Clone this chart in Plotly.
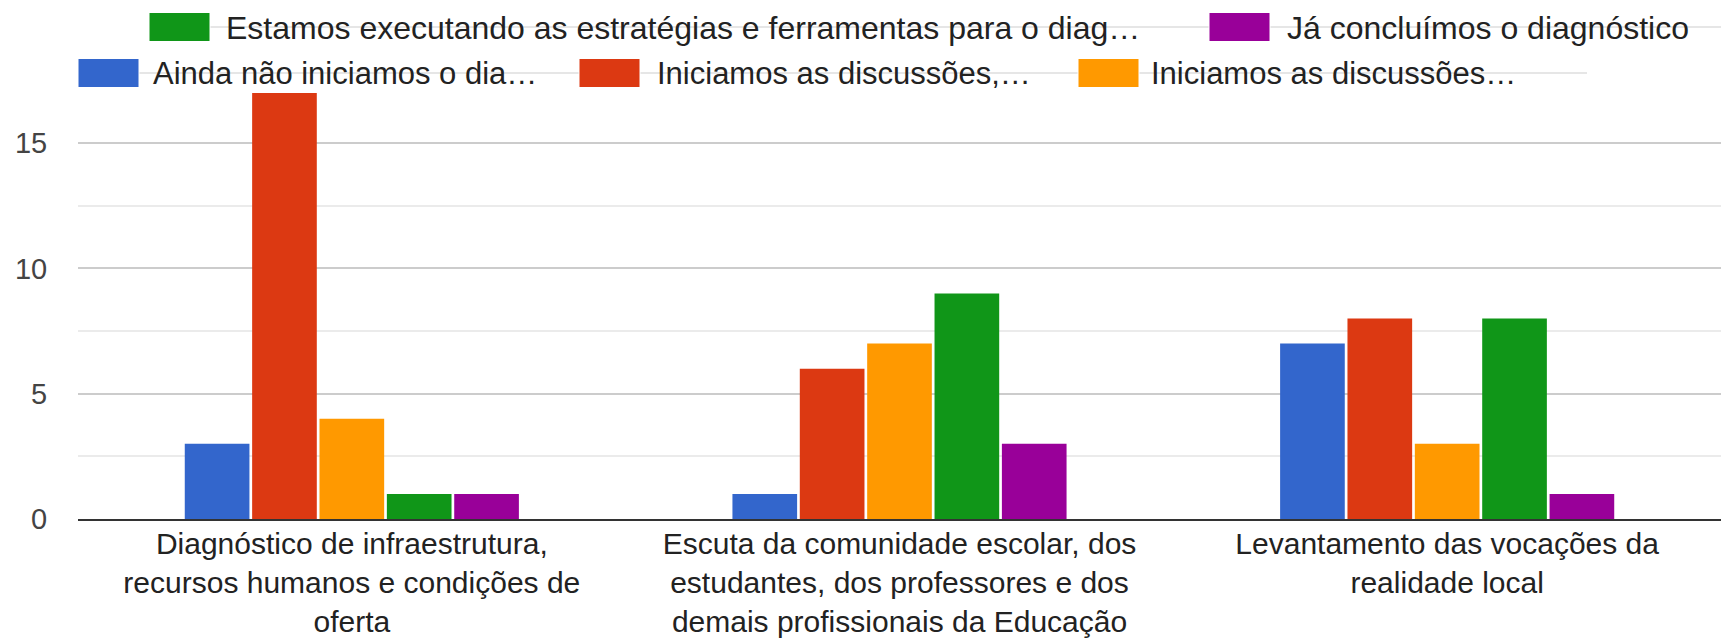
import plotly.graph_objects as go

categories = [
    "Diagnóstico de infraestrutura,<br>recursos humanos e condições de<br>oferta",
    "Escuta da comunidade escolar, dos<br>estudantes, dos professores e dos<br>demais profissionais da Educação",
    "Levantamento das vocações da<br>realidade local",
]
series_names = [
    "Ainda não iniciamos o dia…",
    "Iniciamos as discussões,…",
    "Iniciamos as discussões…",
    "Estamos executando as estratégias e ferramentas para o diag…",
    "Já concluímos o diagnóstico",
]
series_colors = ["#3366cc", "#dc3912", "#ff9900", "#109618", "#990099"]
ainda = [3, 1, 7]
iniciamos_virg = [17, 6, 8]
iniciamos = [4, 7, 3]
estamos = [1, 9, 8]
concluimos = [1, 3, 1]
series_values = [ainda, iniciamos_virg, iniciamos, estamos, concluimos]

W, H = 1721, 638
L, R, T, B = 78, 0, 88, 119
PW, PH = W - L - R, H - T - B

def px(x):
    return (x - L) / PW

def py(y):
    return (H - B - y) / PH

fig = go.Figure()
for name, vals, col in zip(series_names, series_values, series_colors):
    fig.add_trace(go.Bar(x=categories, y=vals, name=name, marker_color=col,
                         marker_line_width=0, showlegend=False))

FONT = "Arial, 'Liberation Sans', sans-serif"
shapes = []
annotations = []
# light rules running behind each legend row
shapes.append(dict(type="line", xref="paper", yref="paper", x0=px(149), x1=px(1721),
                   y0=py(27), y1=py(27), line=dict(color="#e6e6e6", width=2), layer="below"))
shapes.append(dict(type="line", xref="paper", yref="paper", x0=px(78), x1=px(1587),
                   y0=py(73), y1=py(73), line=dict(color="#e6e6e6", width=2), layer="below"))

legend_items = [
    # (series index, box left px, text left px, row center y px, font size)
    (3, 149, 224, 27, 32),
    (4, 1209, 1285, 27, 32),
    (0, 78, 151, 73, 31),
    (1, 579, 655, 73, 31),
    (2, 1078, 1149, 73, 31),
]
BOXW, BOXH = 61, 29
for idx, bx, tx, cy, fs in legend_items:
    shapes.append(dict(type="rect", xref="paper", yref="paper",
                       x0=px(bx), x1=px(bx + BOXW), y0=py(cy - BOXH / 2), y1=py(cy + BOXH / 2),
                       fillcolor=series_colors[idx], line=dict(color="white", width=1)))
    annotations.append(dict(xref="paper", yref="paper", x=px(tx), y=py(cy + 1),
                            xanchor="left", yanchor="middle", showarrow=False,
                            text=series_names[idx], bgcolor="rgba(0,0,0,0)",
                            font=dict(family=FONT, size=fs, color="#222222")))

fig.update_layout(
    width=W, height=H, autosize=False,
    margin=dict(l=L, r=R, t=T, b=B, pad=0),
    paper_bgcolor="white", plot_bgcolor="white",
    barmode="group", bargap=0.385, bargroupgap=0.04,
    font=dict(family=FONT, size=30, color="#222222"),
    shapes=shapes, annotations=annotations,
    showlegend=False,
)
fig.update_xaxes(automargin=False, showline=True, linecolor="#333333", linewidth=2,
                 showgrid=False, ticks="", ticklabelstandoff=-3,
                 tickfont=dict(family=FONT, size=30, color="#222222"))
fig.update_yaxes(automargin=False, range=[0, 17.2], tick0=0, dtick=5, showgrid=True,
                 gridcolor="#cccccc", gridwidth=2, zeroline=False, showline=False,
                 ticks="outside", ticklen=24, tickcolor="rgba(0,0,0,0)",
                 tickfont=dict(family=FONT, size=29, color="#444444"),
                 minor=dict(dtick=2.5, showgrid=True, gridcolor="#ebebeb", gridwidth=2))

fig.write_html("out.html", config={"displayModeBar": False},
               post_script="document.body.style.margin='0';document.body.style.overflow='hidden';")
